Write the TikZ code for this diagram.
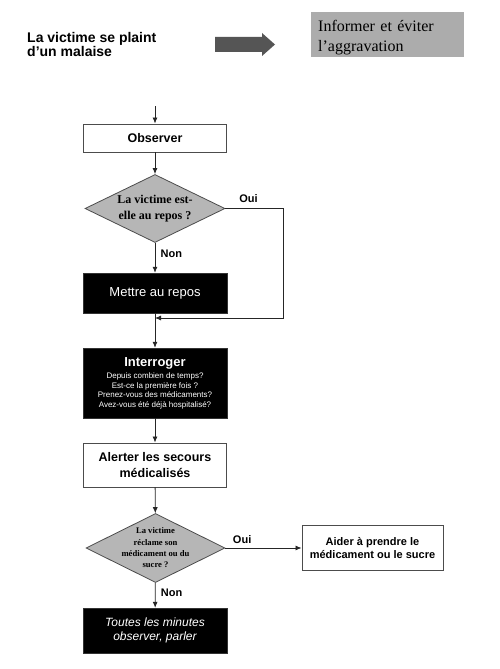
\documentclass[tikz,border=0pt]{standalone}
\usepackage{fontspec}
\setmainfont{Liberation Serif}
\setsansfont{Liberation Sans}
\usetikzlibrary{shapes.geometric,arrows.meta}
\definecolor{boxgray}{RGB}{172,172,172}
\definecolor{diagray}{RGB}{182,182,182}
\definecolor{arrgray}{RGB}{85,85,85}
\begin{document}
\begin{tikzpicture}[x=1pt,y=-1pt,
 conn/.style={draw=black!85, line width=0.8pt},
 arr/.style={conn,-{Latex[length=6pt,width=5pt]}},
 wbox/.style={draw=black!70, line width=0.9pt, fill=white, minimum width=143pt, inner sep=0pt, font=\sffamily\bfseries, align=center},
 bbox/.style={draw=black!80, fill=black, text=white, minimum width=144pt, inner sep=0pt, align=center, font=\sffamily},
 dia/.style={diamond, draw=black!70, line width=0.8pt, fill=diagray, inner sep=-12pt, minimum width=140pt, minimum height=68pt, aspect=2.06, align=center},
 lab/.style={font=\sffamily\bfseries\fontsize{11}{13}\selectfont}]

\useasboundingbox (0,0) rectangle (500,669);
\fill[white] (0,0) rectangle (500,669);

% header
\node[anchor=west, align=left, inner sep=0pt, font=\sffamily\bfseries\fontsize{14}{14.5}\selectfont] (title) at (27,44.5) {La victime se plaint\\d’un malaise};
\fill[arrgray] (215,37) -- (262,37) -- (262,33) -- (275,44.5) -- (262,56) -- (262,52) -- (215,52) -- cycle;
\node[fill=boxgray, anchor=north west, minimum width=153pt, minimum height=45pt, inner xsep=7pt, inner ysep=0pt, text width=139pt, align=left, font=\fontsize{16}{19.5}\selectfont] (info) at (311,12) {\rule{0pt}{17pt}Informer et éviter\\l’aggravation};

% nodes
\coordinate (start) at (155,106);
\node[wbox, minimum height=28pt, font=\sffamily\bfseries\fontsize{12.5}{15}\selectfont] (obs) at (155,138) {Observer};
\node[dia, font=\bfseries\fontsize{12}{15.5}\selectfont] (d1) at (155,208.5) {La victime est-\\elle au repos ?};
\node[bbox, minimum height=40pt, font=\sffamily\fontsize{13}{15}\selectfont] (rest) at (155,293) {Mettre au repos};
\node[bbox, minimum height=70pt, font=\sffamily\fontsize{8}{9.5}\selectfont] (int) at (155,383) {{\bfseries\fontsize{13}{15}\selectfont Interroger}\\[3pt]
 Depuis combien de temps?\\
 Est-ce la première fois ?\\
 Prenez-vous des médicaments?\\
 Avez-vous été déjà hospitalisé?};
\node[wbox, minimum height=44pt, font=\sffamily\bfseries\fontsize{12.5}{16}\selectfont] (alert) at (155,465) {Alerter les secours\\médicalisés};
\node[dia, minimum width=139pt, minimum height=69pt, aspect=2.01, font=\bfseries\fontsize{8.6}{11.3}\selectfont] (d2) at (155.5,548) {La victime\\réclame son\\médicament ou du\\sucre ?};
\node[wbox, minimum width=141pt, minimum height=45pt, font=\sffamily\bfseries\fontsize{11}{12.5}\selectfont] (aid) at (372.5,548) {Aider à prendre le\\médicament ou le sucre};
\node[bbox, minimum height=45pt, font=\sffamily\itshape\fontsize{12}{13.5}\selectfont] (all) at (155,630.5) {Toutes les minutes\\observer, parler};

% connectors
\coordinate (loopR) at (283,208.5);
\coordinate (j) at (155,318);
\draw[arr] (start) -- (obs);
\draw[arr] (obs) -- (d1);
\draw[arr] (d1) -- node[lab, right, pos=0.35, xshift=2pt] (non1) {Non} (rest);
\draw[arr] (d1.east) -- node[lab, above, pos=0.4, yshift=2pt] (oui1) {Oui} (loopR) |- (j);
\draw[arr] (rest) -- (int);
\draw[arr] (int) -- (alert);
\draw[arr] (alert) -- (d2);
\draw[arr] (d2.east) -- node[lab, above, pos=0.22, yshift=1pt] (oui2) {Oui} (aid.west);
\draw[arr] (d2) -- node[lab, right, pos=0.4, xshift=2pt] (non2) {Non} (all);
\end{tikzpicture}
\end{document}
